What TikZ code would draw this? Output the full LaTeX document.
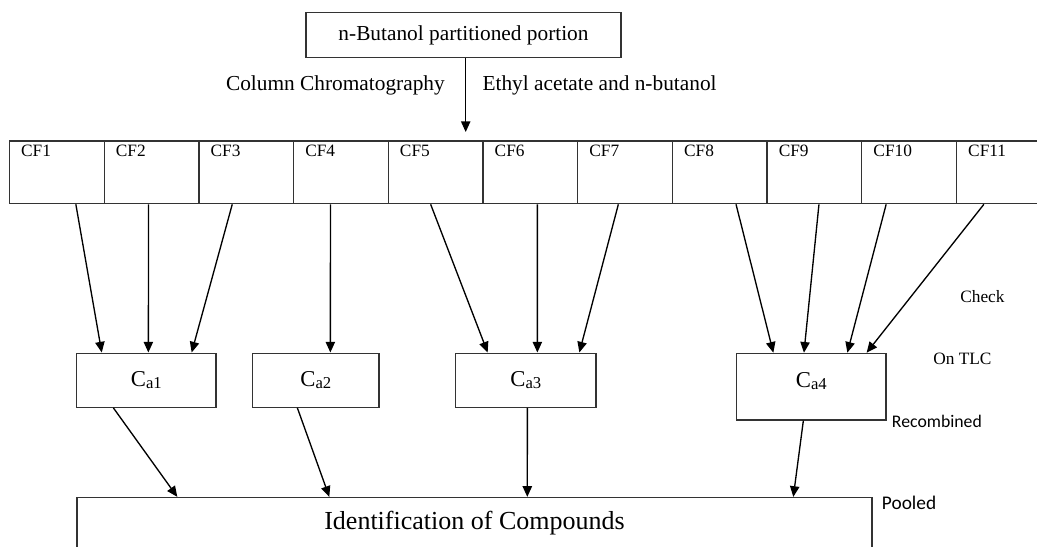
\documentclass[tikz,border=0pt]{standalone}
\usepackage{fontspec}
\setmainfont{Liberation Serif}
\newfontfamily\calfont{Carlito}
\usetikzlibrary{arrows.meta,calc}

\tikzset{
  box/.style={draw=black!80,line width=0.9pt,inner sep=0pt},
  cell/.style={box,minimum width=71pt,minimum height=47pt},
  cabox/.style={box,minimum width=#1,text height=12pt,text depth=2pt,inner ysep=13.3pt,anchor=north,font=\fontsize{17}{20}\selectfont},
  cflab/.style={anchor=base west,inner sep=0pt,font=\fontsize{13}{15}\selectfont},
  note/.style={anchor=base west,inner sep=0pt,font=\fontsize{13}{15}\selectfont},
  flow/.style={line width=1pt,-{Triangle[length=8pt,width=7pt]}},
}
\newcommand{\Cfrac}[1]{C\raisebox{-1.5pt}{\fontsize{12.5}{14}\selectfont a#1}}

\begin{document}
\begin{tikzpicture}[x=0.75pt,y=-0.75pt]
\useasboundingbox (0,0) rectangle (1037,546);

% starting material
\node[box,minimum width=236.25pt,minimum height=33.5pt,font=\fontsize{16}{19}\selectfont] (butanol) at (463.5,35) {n-Butanol partitioned portion};
\coordinate (coltip) at (465.7,132);
\draw[flow] ($(butanol.south)+(2.2,0)$) -- (coltip);
\node[anchor=base east,inner sep=0pt,font=\fontsize{16}{19}\selectfont] (colchrom) at (445,90) {Column Chromatography};
\node[anchor=base west,inner sep=0pt,font=\fontsize{16}{19}\selectfont] (eluent) at (482.3,90) {Ethyl acetate and n-butanol};

% column fractions
\foreach \i in {1,...,11} {
  \node[cell] (cf\i) at ({9.5+94.7*(\i-0.5)},172.4) {};
  \node[cflab] (lab\i) at ($(cf\i.north west)+(12,15.7)$) {CF\i};
}

% recombined fractions
\node[cabox=104.5pt] (ca1) at (146.35,352.5) {\Cfrac{1}};
\node[cabox=94.7pt] (ca2) at (315.85,352.5) {\Cfrac{2}};
\node[cabox=105.2pt] (ca3) at (525.85,352.5) {\Cfrac{3}};
\node[cabox=112pt,text depth=11.4pt] (ca4) at (811.35,352.7) {\Cfrac{4}};

\node[box,minimum width=596.25pt,minimum height=38pt,font=\fontsize{19.5}{23}\selectfont] (ident) at (474.5,522.8) {Identification of Compounds};

% TLC check
\foreach \src/\sdx/\dst/\ddx in {cf1/19/ca1/-44.6, cf2/-3/ca1/2, cf3/-14/ca1/45.3,
    cf4/-10.5/ca2/14.5,
    cf5/-5/ca3/-38.2, cf6/7/ca3/11.5, cf7/-6.7/ca3/53.5,
    cf8/16.3/ca4/-38, cf9/4.5/ca4/-7.4, cf10/-23/ca4/36, cf11/-20/ca4/55.3}
  \draw[flow] ($(\src.south)+(\sdx,0)$) -- ($(\dst.north)+(\ddx,0)$);

% pooling
\foreach \src/\sdx/\ddx in {ca1/-33/-297.2, ca2/-18.5/-145.2, ca3/1.5/52.8, ca4/-8/318.8}
  \draw[flow] ($(\src.south)+(\sdx,0)$) -- ($(ident.north)+(\ddx,0)$);

\node[note] (check) at (960,302.5) {Check};
\node[note] (ontlc) at (933,364.5) {On TLC};
\node[note,font=\calfont\fontsize{13.3}{15}\selectfont] (recomb) at (891.7,427.3) {Recombined};
\node[note,font=\calfont\fontsize{14.5}{17}\selectfont] (pooled) at (881.7,509) {Pooled};

\end{tikzpicture}
\end{document}
